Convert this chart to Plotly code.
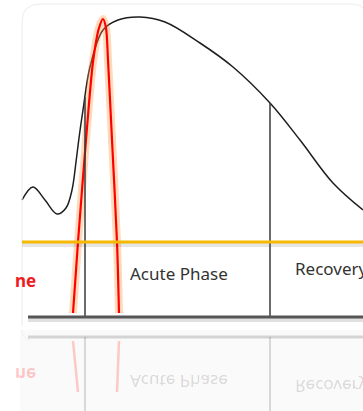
import plotly.graph_objects as go

# ---- diagram data (diagram units, y grows downward) ----
curve_x = [22, 33, 45, 57, 66, 72, 76, 79, 83, 90, 103, 118, 140, 165, 200, 233, 270, 300, 333, 363]
curve_y = [200, 187, 200, 214, 208, 190, 162, 138, 110, 67, 30, 20, 17, 22, 43, 67, 103, 140, 183, 210]

peak_x = [73, 78, 86, 93, 99, 103, 106, 108, 112, 117, 119]
peak_y = [313, 242, 140, 62, 28, 19, 28, 60, 140, 242, 313]

phase_x = [85, 270]          # phase boundaries
phase_top = [97, 103]        # where each boundary meets the curve
threshold_y = 242            # orange threshold line
base_y = 317                 # time axis

labels = ["ne", "Acute Phase", "Recovery"]
label_x = [38, 179, 293]
label_y = [280, 273, 268]
label_anchor = ["right", "center", "left"]
label_color = ["#ee1c1c", "#333333", "#333333"]
label_bold = [True, False, False]

caption = "nd  the  Illness  t"

W, H = 363, 411
mirror = 327  # reflection axis

fig = go.Figure()

# faint reflection background
fig.add_shape(type="rect", x0=20, x1=W, y0=330, y1=H, fillcolor="#fafafa", line_width=0, layer="below")

# faint rounded frame
fig.add_shape(type="path",
              path="M 22 326 L 22 22 Q 22 4 40 4 L 350 4 Q 360 4 363 8",
              line=dict(color="#ececec", width=1))
fig.add_shape(type="path", path="M 22 330 Q 22 338 30 340", line=dict(color="#f0f0f0", width=1))

# shadows
fig.add_shape(type="line", x0=22, x1=W, y0=threshold_y + 3, y1=threshold_y + 3,
              line=dict(color="rgba(0,0,0,0.10)", width=4))
fig.add_shape(type="line", x0=28, x1=W, y0=base_y + 3, y1=base_y + 3,
              line=dict(color="rgba(0,0,0,0.12)", width=4))

# reflections of lines
fig.add_shape(type="line", x0=28, x1=W, y0=2 * mirror - base_y, y1=2 * mirror - base_y,
              line=dict(color="rgba(0,0,0,0.15)", width=3))
for px in phase_x:
    fig.add_shape(type="line", x0=px, x1=px, y0=2 * mirror - base_y, y1=H,
                  line=dict(color="rgba(0,0,0,0.18)", width=1.5))

# phase boundaries
for px, pt in zip(phase_x, phase_top):
    fig.add_shape(type="line", x0=px, x1=px, y0=pt, y1=base_y,
                  line=dict(color="#3a3a3a", width=1.5))

# threshold and baseline
fig.add_shape(type="line", x0=22, x1=W, y0=threshold_y, y1=threshold_y,
              line=dict(color="#f6b800", width=3))
fig.add_shape(type="line", x0=28, x1=W, y0=base_y, y1=base_y,
              line=dict(color="#555555", width=3))

# black curve
fig.add_trace(go.Scatter(x=curve_x, y=curve_y, mode="lines", line=dict(color="#1e1e1e", width=1.5, shape="spline", smoothing=1.0),
                         hoverinfo="skip", showlegend=False))

# red peak with glow
fig.add_trace(go.Scatter(x=peak_x, y=peak_y, mode="lines", line=dict(color="rgba(255,150,60,0.35)", width=8, shape="spline", smoothing=0.8),
                         hoverinfo="skip", showlegend=False))
fig.add_trace(go.Scatter(x=peak_x, y=peak_y, mode="lines", line=dict(color="#ff0000", width=2.2, shape="spline", smoothing=0.8),
                         hoverinfo="skip", showlegend=False))

# reflected red legs
refl_x = [peak_x[0], peak_x[1], None, peak_x[-1], peak_x[-2]]
refl_y = [2 * mirror - peak_y[0], 2 * mirror - 262, None, 2 * mirror - peak_y[-1], 2 * mirror - 262]
fig.add_trace(go.Scatter(x=refl_x, y=refl_y, mode="lines", line=dict(color="rgba(255,60,40,0.25)", width=2.5),
                         hoverinfo="skip", showlegend=False))

# labels
for t, x, y, a, c, b in zip(labels, label_x, label_y, label_anchor, label_color, label_bold):
    fig.add_annotation(x=x, y=y, text=f"<b>{t}</b>" if b else t, showarrow=False, xanchor=a, yanchor="middle",
                       font=dict(family="Noto Sans", size=17, color=c))

flip_idx = []
for t, x, y, a, c, b in zip(labels, label_x, label_y, label_anchor, label_color, label_bold):
    flip_idx.append(len(fig.layout.annotations))
    fc = "rgba(255,40,40,0.25)" if c != "#333333" else "rgba(0,0,0,0.15)"
    fig.add_annotation(x=x, y=2 * mirror - y, text=f"<b>{t}</b>" if b else t, showarrow=False, xanchor=a, yanchor="middle",
                       font=dict(family="Noto Sans", size=17, color=fc))

# cut-off caption at the bottom (paper coordinates so it is not hidden)
fig.add_annotation(xref="paper", yref="paper", x=-6 / W, y=1 - 405 / H, text=f"<b>{caption}</b>",
                   showarrow=False, xanchor="left", yanchor="top",
                   font=dict(family="Noto Sans", size=20, color="#111111"))

fig.update_layout(
    width=W, height=H, margin=dict(l=0, r=0, t=0, b=0),
    paper_bgcolor="white", plot_bgcolor="white",
    xaxis=dict(range=[0, W], visible=False, fixedrange=True),
    yaxis=dict(range=[H, 0], visible=False, fixedrange=True),
)

idx_js = ",".join(f"'{i}'" for i in flip_idx)
post = """
document.body.style.margin='0';
document.body.style.overflow='hidden';
var gd=document.getElementById('{plot_id}');
function flipR(){
  gd.querySelectorAll('g.annotation').forEach(function(g){
    if([%s].indexOf(g.getAttribute('data-index'))>=0){
      var t=g.querySelector('text.annotation-text');
      if(t){t.style.transformBox='fill-box';t.style.transformOrigin='center';t.style.transform='scaleY(-1)';}
    }
  });
}
flipR(); gd.on('plotly_afterplot', flipR);
""" % idx_js

fig.write_html("out.html", post_script=post, config={"displayModeBar": False})
